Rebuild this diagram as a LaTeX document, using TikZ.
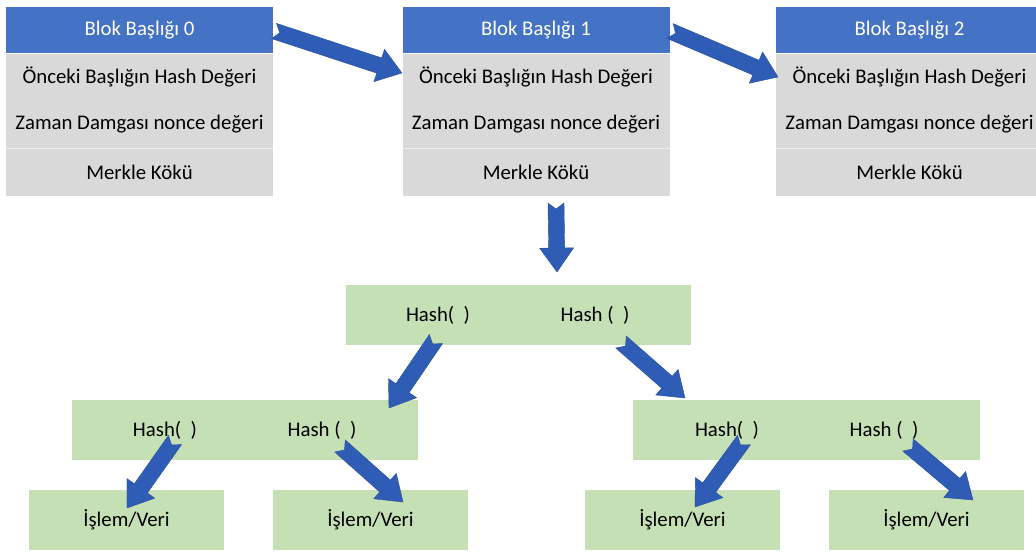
\documentclass[tikz,border=0pt]{standalone}
\usepackage{fontspec}
\setmainfont{Carlito}
\usetikzlibrary{positioning,calc}
\definecolor{headblue}{HTML}{4472C4}
\definecolor{arrowblue}{HTML}{2F5DB6}
\definecolor{rowgray}{HTML}{D9D9D9}
\definecolor{leafgreen}{HTML}{C5E0B4}
\tikzset{
  txt/.style={font=\fontsize{15.6}{18}\selectfont},
  head/.style={txt,fill=headblue,text=white,minimum width=200.25pt,minimum height=34.5pt,inner sep=0pt},
  field/.style={txt,fill=rowgray,minimum width=200.25pt,minimum height=35.25pt,inner sep=0pt},
  hashbox/.style={fill=leafgreen,minimum height=45pt,inner sep=0pt},
  leaf/.style={txt,fill=leafgreen,minimum width=146.25pt,minimum height=45pt,inner sep=0pt},
  fat/.style={fill=arrowblue,draw=arrowblue!85!black,line width=0.3pt}
}
% fat arrow from tail #1 to tip #2
\newcommand{\fatarrow}[2]{%
  \coordinate (#1#2b) at ($(#2)!18pt!(#1)$);
  \filldraw[fat] ($(#1)!6pt!90:(#2)$) -- ($(#1#2b)!6pt!90:(#2)$) -- ($(#1#2b)!12.75pt!90:(#2)$)
    -- (#2) -- ($(#1#2b)!12.75pt!-90:(#2)$) -- ($(#1#2b)!6pt!-90:(#2)$)
    -- ($(#1)!6pt!-90:(#2)$) -- ($(#1)!4.5pt!(#2)$) -- cycle;
}
\begin{document}
\begin{tikzpicture}[x=0.75pt,y=-0.75pt]
  \useasboundingbox (0,0) rectangle (1036,552);
  % block headers
  \foreach \i/\cx in {0/139.5,1/536,2/909.5}{
    \node[head] (h\i) at (\cx,30) {Blok Başlığı \i};
    \node[field,below=0pt of h\i] (p\i) {Önceki Başlığın Hash Değeri};
    \node[field,below=0pt of p\i] (z\i) {Zaman Damgası nonce değeri};
    \node[field,below=0pt of z\i] (k\i) {Merkle Kökü};
    \draw[white!55!rowgray,line width=0.6pt] (z\i.south west) -- (z\i.south east);
  }
  % merkle tree
  \node[hashbox,minimum width=258.75pt] (m0) at (518.5,315) {};
  \node[txt] (m0l) at (438,315) {Hash(\ \ )};
  \node[txt] (m0r) at (595,315) {Hash (\ \ )};
  \node[hashbox,minimum width=259.5pt] (m1) at (245,430) {};
  \node[txt] (m1l) at (165,430) {Hash(\ \ )};
  \node[txt] (m1r) at (322,430) {Hash (\ \ )};
  \node[hashbox,minimum width=260.25pt] (m2) at (806.5,430) {};
  \node[txt] (m2l) at (727,430) {Hash(\ \ )};
  \node[txt] (m2r) at (884,430) {Hash (\ \ )};
  \foreach \j/\cx in {a/126.5,b/370.5,c/682.5,d/926.5}
    \node[leaf] (v\j) at (\cx,520) {İşlem/Veri};
  % arrow ends
  \coordinate (t0) at (274,31);  \coordinate (s0) at (402,73);
  \coordinate (t1) at (670,31);  \coordinate (s1) at (778,77);
  \coordinate (td) at (556,203); \coordinate (sd) at (557,272);
  \coordinate (ta) at (436,339); \coordinate (sa) at (389,408);
  \coordinate (tb) at (621,342); \coordinate (sb) at (685,398);
  \coordinate (tc) at (175,440); \coordinate (sc) at (127,508);
  \coordinate (te) at (340,446); \coordinate (se) at (403,502);
  \coordinate (tf) at (744,440); \coordinate (sf) at (695,507);
  \coordinate (tg) at (908,445); \coordinate (sg) at (973,500);
  \foreach \k in {0,1,d,a,b,c,e,f,g}{
    \fatarrow{t\k}{s\k}
  }
\end{tikzpicture}
\end{document}
